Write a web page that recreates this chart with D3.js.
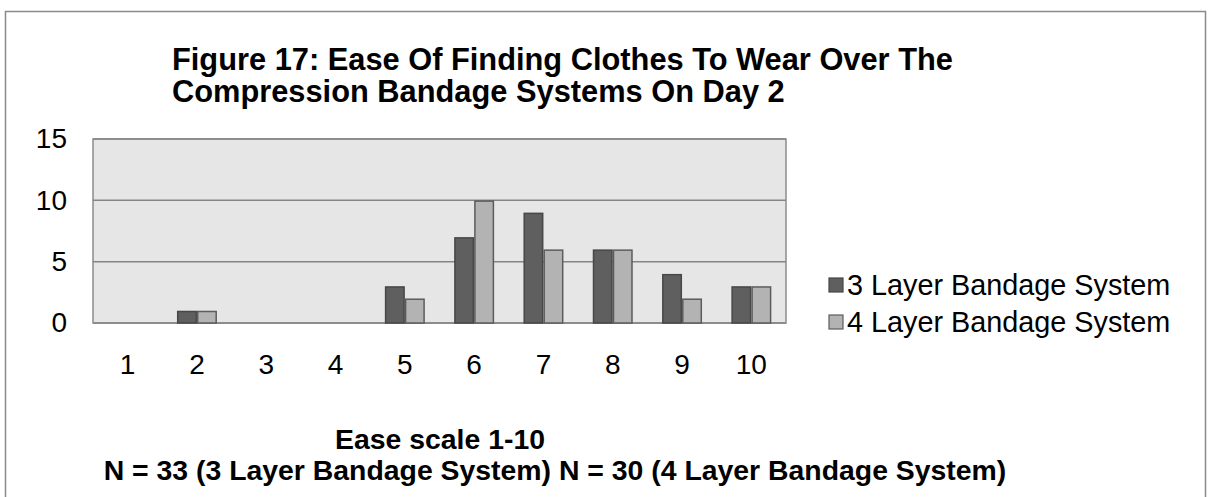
<!DOCTYPE html>
<html>
<head>
<meta charset="utf-8">
<script src="https://cdn.jsdelivr.net/npm/d3@7"></script>
<style>
  html, body { margin: 0; padding: 0; background: #fff; }
  svg { display: block; font-family: "Liberation Sans", Arial, sans-serif; }
</style>
</head>
<body>
<svg id="chart" width="1211" height="497"></svg>
<script>
// Ease ratings (1-10) and number of respondents per rating
const categories = ["1", "2", "3", "4", "5", "6", "7", "8", "9", "10"];
const seriesNames = ["3 Layer Bandage System", "4 Layer Bandage System"];
const threeLayer = [0, 1, 0, 0, 3, 7, 9, 6, 4, 3];
const fourLayer = [0, 1, 0, 0, 2, 10, 6, 6, 2, 3];
const yTicks = [0, 5, 10, 15];
const titleLines = [
  "Figure 17: Ease Of Finding Clothes To Wear Over The",
  "Compression Bandage Systems On Day 2"
];
const axisTitleLines = [
  "Ease scale 1-10",
  "N = 33 (3 Layer Bandage System) N = 30 (4 Layer Bandage System)"
];

const fills = ["#5f5f5f", "#b3b3b3"];
const strokes = ["#474747", "#5c5c5c"];

const svg = d3.select("#chart");

// outer chart frame
svg.append("rect")
  .attr("x", 5.5).attr("y", 11.5)
  .attr("width", 1200).attr("height", 490)
  .attr("fill", "#fff").attr("stroke", "#8a8a8a").attr("stroke-width", 1.5);

const plot = { left: 93, right: 786, top: 139, bottom: 323 };

const x0 = d3.scaleBand()
  .domain(categories)
  .range([plot.left, plot.right])
  .paddingInner(0.423)
  .paddingOuter(0.2115);

const x1 = d3.scaleBand()
  .domain(d3.range(seriesNames.length))
  .range([0, x0.bandwidth()]);

const y = d3.scaleLinear().domain([0, 15]).range([plot.bottom, plot.top]);

// plot background
svg.append("rect")
  .attr("x", plot.left).attr("y", plot.top)
  .attr("width", plot.right - plot.left).attr("height", plot.bottom - plot.top)
  .attr("fill", "#e6e6e6").attr("stroke", "#8c8c8c").attr("stroke-width", 1.5);

// horizontal gridlines
svg.append("g")
  .selectAll("line")
  .data(yTicks.filter(d => d > 0))
  .join("line")
  .attr("x1", plot.left).attr("x2", plot.right)
  .attr("y1", d => y(d)).attr("y2", d => y(d))
  .attr("stroke", "#858585").attr("stroke-width", 1.5);

// y axis labels
const yAxis = d3.axisLeft(y).tickValues(yTicks).tickSize(0).tickPadding(26);
svg.append("g")
  .attr("transform", `translate(${plot.left},0)`)
  .call(yAxis)
  .call(g => g.select(".domain").remove())
  .call(g => g.selectAll("text")
    .attr("font-size", 28).attr("fill", "#000")
    .attr("font-family", "Liberation Sans, Arial, sans-serif"));

// x axis labels
const xAxis = d3.axisBottom(d3.scaleBand().domain(categories).range([plot.left, plot.right]))
  .tickSize(0).tickPadding(31);
svg.append("g")
  .attr("transform", `translate(0,${plot.bottom})`)
  .call(xAxis)
  .call(g => g.select(".domain").remove())
  .call(g => g.selectAll("text")
    .attr("font-size", 28).attr("fill", "#000")
    .attr("font-family", "Liberation Sans, Arial, sans-serif"));

// bottom axis line
svg.append("line")
  .attr("x1", plot.left).attr("x2", plot.right)
  .attr("y1", plot.bottom).attr("y2", plot.bottom)
  .attr("stroke", "#8c8c8c").attr("stroke-width", 2);

// bars
const series = [threeLayer, fourLayer];
const groups = svg.append("g")
  .selectAll("g")
  .data(categories)
  .join("g")
  .attr("transform", d => `translate(${x0(d)},0)`);

groups.selectAll("rect")
  .data((c, i) => series.map((s, k) => ({ k, v: s[i] })).filter(d => d.v > 0))
  .join("rect")
  .attr("x", d => x1(d.k) + 0.75)
  .attr("width", x1.bandwidth() - 1.5)
  .attr("y", d => y(d.v) + 0.75)
  .attr("height", d => y(0) - y(d.v) - 0.75)
  .attr("fill", d => fills[d.k])
  .attr("stroke", d => strokes[d.k])
  .attr("stroke-width", 1.5);

// legend
const legend = svg.append("g");
const legendY = [285, 322];
seriesNames.forEach((name, k) => {
  legend.append("rect")
    .attr("x", 829).attr("y", legendY[k] - 7)
    .attr("width", 14).attr("height", 14)
    .attr("fill", fills[k]).attr("stroke", strokes[k]).attr("stroke-width", 1.2);
  legend.append("text")
    .attr("x", 847).attr("y", legendY[k])
    .attr("dy", "0.36em")
    .attr("font-size", 28.8).attr("fill", "#000")
    .text(name);
});

// title
svg.append("g")
  .selectAll("text")
  .data(titleLines)
  .join("text")
  .attr("x", 172)
  .attr("y", (d, i) => 70 + i * 32)
  .attr("font-size", 30.8).attr("font-weight", "bold").attr("fill", "#000")
  .text(d => d);

// axis title
svg.append("g")
  .selectAll("text")
  .data(axisTitleLines)
  .join("text")
  .attr("x", (d, i) => i === 0 ? 440 : 555)
  .attr("y", (d, i) => 449 + i * 31)
  .attr("text-anchor", "middle")
  .attr("font-size", 28.4).attr("font-weight", "bold").attr("fill", "#000")
  .text(d => d);
</script>
</body>
</html>
